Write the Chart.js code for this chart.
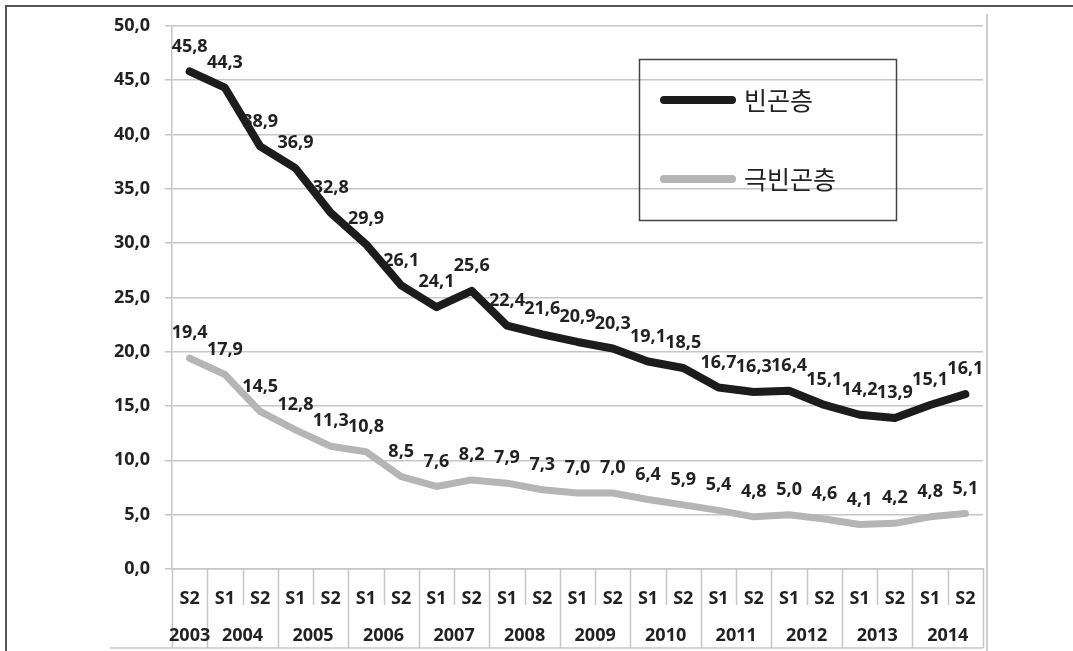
<!DOCTYPE html>
<html>
<head>
<meta charset="utf-8">
<script src="https://cdn.jsdelivr.net/npm/chart.js@4"></script>
<style>
  body { margin: 0; background: #fff; }
  #wrap { width: 1073px; height: 651px; }
</style>
</head>
<body>
<div id="wrap"><canvas id="grafica"></canvas></div>
<script>
// half-years, first point is 2003 S2
const semesters = ["S2", "S1", "S2", "S1", "S2", "S1", "S2", "S1", "S2", "S1", "S2", "S1", "S2",
  "S1", "S2", "S1", "S2", "S1", "S2", "S1", "S2", "S1", "S2"];
const years = ["2003", "2004", "2005", "2006", "2007", "2008", "2009", "2010", "2011", "2012", "2013", "2014"];
const poor = [45.8, 44.3, 38.9, 36.9, 32.8, 29.9, 26.1, 24.1, 25.6, 22.4, 21.6, 20.9, 20.3,
  19.1, 18.5, 16.7, 16.3, 16.4, 15.1, 14.2, 13.9, 15.1, 16.1];
const extremePoor = [19.4, 17.9, 14.5, 12.8, 11.3, 10.8, 8.5, 7.6, 8.2, 7.9, 7.3, 7.0, 7.0,
  6.4, 5.9, 5.4, 4.8, 5.0, 4.6, 4.1, 4.2, 4.8, 5.1];
const yTicks = [0, 5, 10, 15, 20, 25, 30, 35, 40, 45, 50];

const fmt = (v) => v.toFixed(1).replace(".", ",");
const boldFont = "bold 18px 'Open Sans', sans-serif";

// value labels above each point
const valueLabels = {
  id: "valueLabels",
  afterDatasetsDraw(chart) {
    const ctx = chart.ctx;
    ctx.save();
    ctx.font = boldFont;
    ctx.fillStyle = "#222";
    ctx.textAlign = "center";
    ctx.textBaseline = "middle";
    chart.data.datasets.forEach((ds, i) => {
      chart.getDatasetMeta(i).data.forEach((pt, j) => {
        ctx.fillText(fmt(ds.data[j]), pt.x, pt.y - 25);
      });
    });
    ctx.restore();
  },
};

// table under the x axis, legend box and outer frame
const decorations = {
  id: "decorations",
  afterDraw(chart) {
    const ctx = chart.ctx;
    const x = chart.scales.x;
    const area = chart.chartArea;
    const step = x.getPixelForValue(1) - x.getPixelForValue(0);
    const edge = (i) => x.getPixelForValue(0) - step / 2 + i * step;
    ctx.save();
    ctx.strokeStyle = "#c6c6c6";
    ctx.lineWidth = 1.5;
    for (let i = 0; i <= semesters.length; i++) {
      const yearEdge = i === 0 || i % 2 === 1 || i === semesters.length;
      const px = Math.round(edge(i)) + 0.5;
      ctx.beginPath();
      ctx.moveTo(px, area.bottom);
      ctx.lineTo(px, yearEdge ? 648 : 605);
      ctx.stroke();
    }
    ctx.beginPath();
    ctx.moveTo(110, 648);
    ctx.lineTo(area.right, 648);
    ctx.stroke();

    // year labels
    ctx.font = boldFont;
    ctx.fillStyle = "#222";
    ctx.textAlign = "center";
    ctx.textBaseline = "middle";
    years.forEach((yr, k) => {
      let cx;
      if (k === 0) cx = x.getPixelForValue(0);
      else cx = (x.getPixelForValue(2 * k - 1) + x.getPixelForValue(2 * k)) / 2;
      ctx.fillText(yr, cx, 636);
    });

    // legend
    ctx.strokeStyle = "#444";
    ctx.lineWidth = 1.5;
    ctx.strokeRect(639.5, 59.5, 257, 161);
    ctx.lineCap = "round";
    ctx.font = "25px 'Noto Sans CJK KR', sans-serif";
    ctx.textAlign = "left";
    chart.data.datasets.forEach((ds, i) => {
      const ly = 100 + i * 79;
      ctx.strokeStyle = ds.borderColor;
      ctx.lineWidth = 8;
      ctx.beginPath();
      ctx.moveTo(664, ly);
      ctx.lineTo(732, ly);
      ctx.stroke();
      ctx.fillStyle = "#222";
      ctx.fillText(ds.label, 744, ly);
    });

    // frame
    ctx.lineCap = "butt";
    ctx.strokeStyle = "#555";
    ctx.lineWidth = 2;
    ctx.beginPath();
    ctx.moveTo(6, 651);
    ctx.lineTo(6, 6);
    ctx.lineTo(1073, 6);
    ctx.stroke();
    ctx.strokeStyle = "#cfcfcf";
    ctx.beginPath();
    ctx.moveTo(987, 14);
    ctx.lineTo(987, 651);
    ctx.stroke();
    ctx.restore();
  },
};

const grafica = document.getElementById("grafica").getContext("2d");

new Chart(grafica, {
  type: "line",
  data: {
    labels: semesters,
    datasets: [
      {
        label: "빈곤층",
        data: poor,
        borderColor: "#1c1c1c",
        borderWidth: 8,
        pointRadius: 0,
        borderJoinStyle: "round",
        borderCapStyle: "round",
      },
      {
        label: "극빈곤층",
        data: extremePoor,
        borderColor: "#b5b5b5",
        borderWidth: 7,
        pointRadius: 0,
        borderJoinStyle: "round",
        borderCapStyle: "round",
      },
    ],
  },
  options: {
    responsive: true,
    maintainAspectRatio: false,
    animation: false,
    layout: { padding: { left: 0, right: 90, top: 24, bottom: 0 } },
    plugins: {
      legend: { display: false },
      tooltip: { enabled: false },
    },
    scales: {
      x: {
        offset: true,
        grid: { display: false },
        border: { color: "#c6c6c6", width: 1.5 },
        ticks: {
          padding: 11,
          color: "#222",
          font: { family: "'Open Sans', sans-serif", size: 18, weight: "bold" },
          maxRotation: 0,
          autoSkip: false,
        },
        afterFit: (scale) => { scale.height = 82; },
      },
      y: {
        min: 0,
        max: 50,
        afterBuildTicks: (scale) => { scale.ticks = yTicks.map((v) => ({ value: v })); },
        grid: { color: "#c6c6c6", lineWidth: 1.5, tickLength: 7 },
        border: { color: "#c6c6c6", width: 1.5 },
        ticks: {
          padding: 15,
          color: "#222",
          font: { family: "'Open Sans', sans-serif", size: 18, weight: "bold" },
          callback: (v) => fmt(v),
        },
        afterFit: (scale) => { scale.width = 172; },
      },
    },
  },
  plugins: [valueLabels, decorations],
});
</script>
</body>
</html>
